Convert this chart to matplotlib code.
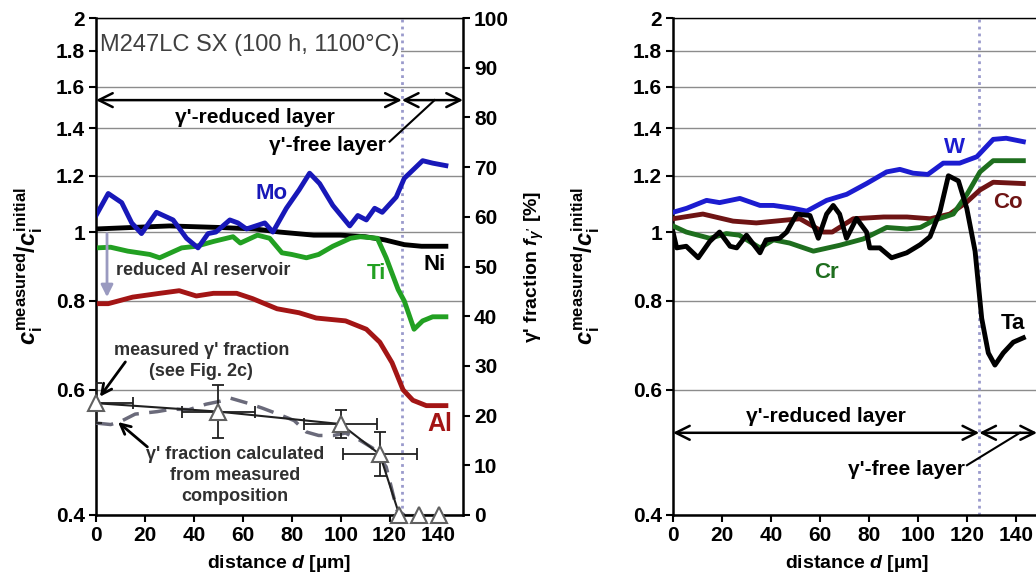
import matplotlib
matplotlib.use("Agg")
from matplotlib import pyplot as plt
from matplotlib import font_manager
import numpy as np

# font: narrow bold sans if present
names = set(f.name for f in font_manager.fontManager.ttflist)
FAM = 'Liberation Sans Narrow' if 'Liberation Sans Narrow' in names else 'Liberation Sans'
plt.rcParams['font.family'] = [FAM, 'DejaVu Sans']
plt.rcParams['font.weight'] = 'bold'
plt.rcParams['axes.labelweight'] = 'bold'
plt.rcParams['mathtext.fontset'] = 'custom'
plt.rcParams['mathtext.rm'] = FAM + ':bold'
plt.rcParams['mathtext.it'] = FAM + ':italic:bold'
plt.rcParams['mathtext.bf'] = FAM + ':bold'

# ---- left panel data (distance in um, c_measured / c_initial) ----
mo_x = [0, 5, 10.5, 14.6, 18.6, 24.7, 31.5, 37, 41.7, 45.8, 49, 54.7, 58, 61.5, 69, 72.3,
        77.8, 83, 87.3, 91.4, 96.8, 103.7, 107, 110.5, 113.9, 117, 122.7, 126, 133.5, 137.6, 143]
mo_y = [1.055, 1.133, 1.10, 1.03, 0.995, 1.066, 1.04, 0.98, 0.95, 0.995, 1.0, 1.04, 1.03, 1.01, 1.03, 1.0,
        1.08, 1.146, 1.21, 1.17, 1.09, 1.02, 1.055, 1.04, 1.08, 1.066, 1.12, 1.19, 1.26, 1.25, 1.24]

ni_x = [0, 15, 30, 50, 65, 75, 89, 100, 110, 118, 126, 133, 143]
ni_y = [1.01, 1.015, 1.02, 1.015, 1.01, 1.0, 0.99, 0.99, 0.985, 0.975, 0.96, 0.955, 0.955]

ti_x = [0, 6, 13, 22, 26, 35, 41, 48, 56, 59, 66, 71, 76, 80, 86, 91, 96.8, 104, 108, 115,
        118.6, 123.5, 126, 130, 133.5, 137.6, 143]
ti_y = [0.95, 0.952, 0.94, 0.93, 0.92, 0.95, 0.955, 0.97, 0.985, 0.965, 0.99, 0.98, 0.935, 0.93, 0.92,
        0.93, 0.955, 0.98, 0.985, 0.98, 0.92, 0.83, 0.80, 0.73, 0.75, 0.76, 0.76]

al_x = [0, 5, 15, 26, 34, 41, 48, 57.5, 64, 74, 83, 90, 102, 110.5, 116, 121, 125.5,
        129.5, 135, 143]
al_y = [0.793, 0.793, 0.81, 0.82, 0.827, 0.813, 0.82, 0.82, 0.806, 0.78, 0.77, 0.757, 0.75, 0.73,
        0.70, 0.655, 0.60, 0.58, 0.57, 0.57]

# gamma' fraction [%]
meas_x = [0, 50, 100, 116, 124, 132, 140]
meas_f = [22.5, 20.8, 18.3, 12.2, 0, 0, 0]
meas_ferr = [4, 5.3, 2.8, 4.4, 0, 0, 0]
meas_xerr = [15, 15, 15, 15, 0, 0, 0]

calc_x = [0, 6, 10, 16, 25, 31, 38, 45, 50, 55, 62, 68, 75, 81, 86, 91, 97, 102, 108, 113,
          118.6, 123, 126]
calc_f = [18.5, 18.2, 18.8, 20.3, 20.8, 21.3, 21.2, 22.3, 22.8, 23.5, 22.5, 21.5, 20.2, 19,
          16.7, 16, 16, 16.5, 15, 13.5, 9.7, 1, 0]

# ---- right panel data ----
w_x = [0, 5.6, 13.7, 19, 27.3, 35.5, 41, 49, 54.6, 62.7, 70.9, 79, 87.2, 92.6, 98, 104,
       110.3, 117, 124, 130.7, 136, 143]
w_y = [1.066, 1.08, 1.108, 1.10, 1.115, 1.09, 1.09, 1.08, 1.07, 1.108, 1.13, 1.17, 1.215, 1.225,
       1.21, 1.205, 1.25, 1.25, 1.276, 1.35, 1.355, 1.34]

co_x = [0, 12.2, 24.5, 34, 51.8, 61.3, 65, 73.6, 86, 95.5, 105, 113, 119.9, 125.3, 130.7, 143]
co_y = [1.044, 1.06, 1.036, 1.03, 1.044, 1.0, 1.0, 1.044, 1.05, 1.05, 1.044, 1.06, 1.102, 1.146,
        1.175, 1.17]

cr_x = [0, 5.4, 15, 21.8, 27, 35.5, 41, 47.6, 57.3, 68, 77.7, 87.2, 95.5, 101, 106.3, 114.4,
        120, 125.3, 130.7, 143]
cr_y = [1.02, 1.0, 0.98, 0.995, 0.99, 0.95, 0.975, 0.965, 0.94, 0.958, 0.978, 1.015, 1.01, 1.015,
        1.038, 1.06, 1.13, 1.215, 1.26, 1.26]

ta_x = [0, 1.5, 5.4, 10.3, 15, 19, 23.3, 26, 30, 35.5, 38, 43.5, 46.4, 50.5, 55.9, 59.3, 62.7,
        65.4, 68, 70.8, 74.9, 79, 80.3, 84.4, 89.2, 95.4, 100.9, 104.9, 109, 112.4, 116.5, 119.9,
        123.3, 125.3, 126, 128.7, 131.4, 134.8, 138.9, 143]
ta_y = [1.0, 0.95, 0.955, 0.92, 0.97, 1.0, 0.955, 0.95, 0.99, 0.935, 0.975, 0.98, 1.0, 1.06, 1.055,
        0.98, 1.06, 1.09, 1.06, 0.98, 1.045, 1.0, 0.95, 0.95, 0.92, 0.935, 0.96, 0.985, 1.07, 1.2,
        1.18, 1.08, 0.94, 0.80, 0.756, 0.676, 0.65, 0.676, 0.70, 0.71]

yticks = [0.4, 0.6, 0.8, 1, 1.2, 1.4, 1.6, 1.8, 2]
ytick_labels = ['0.4', '0.6', '0.8', '1', '1.2', '1.4', '1.6', '1.8', '2']
xticks = [0, 20, 40, 60, 80, 100, 120, 140]
d_free = 125

TS = 15
ylab = r'$c_{\mathrm{i}}^{\mathrm{measured}}/c_{\mathrm{i}}^{\mathrm{initial}}$'

fig = plt.figure(figsize=(10.36, 5.86), dpi=100)


def setup(ax, lpad):
    ax.set_yscale('log')
    ax.set_ylim(0.4, 2)
    ax.set_xlim(0, 150)
    ax.set_yticks(yticks)
    ax.set_yticklabels(ytick_labels)
    ax.yaxis.set_minor_locator(matplotlib.ticker.NullLocator())
    ax.set_xticks(xticks)
    ax.grid(axis='y', color='#8c8c8c', lw=1)
    ax.set_axisbelow(True)
    ax.tick_params(direction='out', length=5, width=1.5, labelsize=TS, pad=3)
    for s in ax.spines.values():
        s.set_linewidth(1.8)
    ax.spines['top'].set_linewidth(1.0)
    ax.set_xlabel(r'distance $d$ [µm]', fontsize=14, labelpad=6)
    ax.set_ylabel(ylab, fontsize=17, labelpad=lpad)
    ax.axvline(d_free, color='#9a9acc', lw=2, ls=(0, (1, 1.5)), zorder=1)


ax1 = fig.add_axes([96 / 1036, 71 / 586, 367 / 1036, 497 / 586])
setup(ax1, 8)
ax1.spines['right'].set_visible(False)

ax1.plot(ni_x, ni_y, color='black', lw=3.5, zorder=3)
ax1.plot(ti_x, ti_y, color='#22a022', lw=3.5, zorder=3)
ax1.plot(al_x, al_y, color='#a31515', lw=3.5, zorder=3)
ax1.plot(mo_x, mo_y, color='#1818b8', lw=3.5, zorder=3)

ax1.text(1.6, 1.83, 'M247LC SX (100 h, 1100°C)', fontsize=17, fontweight='normal',
         ha='left', va='center', color='#404040',
         bbox=dict(facecolor='white', edgecolor='none', pad=1))
ax1.text(71.8, 1.133, 'Mo', color='#1818b8', fontsize=16, ha='center', va='center')
ax1.text(114.6, 0.874, 'Ti', color='#22a022', fontsize=16, ha='center', va='center')
ax1.text(138.4, 0.90, 'Ni', color='black', fontsize=16, ha='center', va='center')
ax1.text(140.4, 0.537, 'Al', color='#a31515', fontsize=18, ha='center', va='center')

ax1.annotate('', xy=(0, 1.533), xytext=(d_free, 1.533),
             arrowprops=dict(arrowstyle='<->', lw=1.8, mutation_scale=25, shrinkA=0, shrinkB=0))
ax1.annotate('', xy=(d_free, 1.533), xytext=(150, 1.533),
             arrowprops=dict(arrowstyle='<->', lw=1.8, mutation_scale=25, shrinkA=0, shrinkB=0))
ax1.text(65, 1.45, "γ'-reduced layer", fontsize=15, ha='center', va='center')
ax1.text(118.7, 1.325, "γ'-free layer", fontsize=15, ha='right', va='center')
ax1.plot([120, 138.4], [1.34, 1.533], color='black', lw=1.5)

ax1.annotate('', xy=(4.5, 0.81), xytext=(4.5, 0.995),
             arrowprops=dict(arrowstyle='-|>', lw=2, color='#9a9ac0', mutation_scale=18,
                             shrinkA=0, shrinkB=0))
ax1.text(8, 0.882, 'reduced Al reservoir', fontsize=13, ha='left', va='center', color='#303030')

# right axis: gamma' fraction
ax1t = ax1.twinx()
ax1t.set_ylim(0, 100)
ax1t.set_yticks(range(0, 101, 10))
ax1t.tick_params(direction='out', length=5, width=1.5, labelsize=TS, pad=3)
ax1t.spines['right'].set_linewidth(1.8)
ax1t.set_ylabel("γ' fraction " + r"$f_{\gamma'}$" + " [%]", fontsize=14, labelpad=10)

ax1t.plot(calc_x, calc_f, color='#6a6a7a', lw=2.5, ls=(0, (5, 3)), zorder=3)
ax1t.errorbar(meas_x, meas_f, yerr=meas_ferr, xerr=meas_xerr, color='#202020', lw=1.5,
              elinewidth=1.3, capsize=4, capthick=1.3, fmt='-', zorder=4)
ax1t.plot(meas_x, meas_f, ls='none', marker='^', ms=11, mfc='white', mec='#606060',
          mew=1.5, zorder=5, clip_on=False)

ax1t.text(43, 30.9, "measured γ' fraction\n(see Fig. 2c)", fontsize=13, ha='center',
          va='center', linespacing=1.3, color='#303030')
ax1t.annotate('', xy=(1.6, 23.8), xytext=(12, 30.8),
              arrowprops=dict(arrowstyle='->', lw=2, mutation_scale=18, shrinkA=0, shrinkB=0))
ax1t.text(56.7, 8.0, "γ' fraction calculated\nfrom measured\ncomposition", fontsize=13,
          ha='center', va='center', linespacing=1.3, color='#303030')
ax1t.annotate('', xy=(9, 18.7), xytext=(21, 13.7),
              arrowprops=dict(arrowstyle='->', lw=2, mutation_scale=18, shrinkA=0, shrinkB=0))

# ---- right panel ----
ax2 = fig.add_axes([673 / 1036, 71 / 586, 367.5 / 1036, 497 / 586])
setup(ax2, 22)
ax2.spines['right'].set_visible(False)

ax2.plot(co_x, co_y, color='#6e1414', lw=3.5, zorder=3)
ax2.plot(cr_x, cr_y, color='#1e6e1e', lw=3.5, zorder=3)
ax2.plot(w_x, w_y, color='#1c1cd0', lw=3.5, zorder=3)
ax2.plot(ta_x, ta_y, color='black', lw=3.5, zorder=3)

ax2.text(115, 1.316, 'W', color='#1c1cd0', fontsize=16, ha='center', va='center')
ax2.text(136.8, 1.10, 'Co', color='#6e1414', fontsize=16, ha='center', va='center')
ax2.text(62.8, 0.877, 'Cr', color='#1e6e1e', fontsize=16, ha='center', va='center')
ax2.text(138.8, 0.743, 'Ta', color='black', fontsize=16, ha='center', va='center')

ax2.annotate('', xy=(0, 0.522), xytext=(d_free, 0.522),
             arrowprops=dict(arrowstyle='<->', lw=1.8, mutation_scale=25, shrinkA=0, shrinkB=0))
ax2.annotate('', xy=(d_free, 0.522), xytext=(148.6, 0.522),
             arrowprops=dict(arrowstyle='<->', lw=1.8, mutation_scale=25, shrinkA=0, shrinkB=0))
ax2.text(62.5, 0.55, "γ'-reduced layer", fontsize=15, ha='center', va='center')
ax2.text(119, 0.464, "γ'-free layer", fontsize=15, ha='right', va='center')
ax2.plot([120, 141.6], [0.47, 0.522], color='black', lw=1.5)

plt.savefig('out.png', dpi=100)
